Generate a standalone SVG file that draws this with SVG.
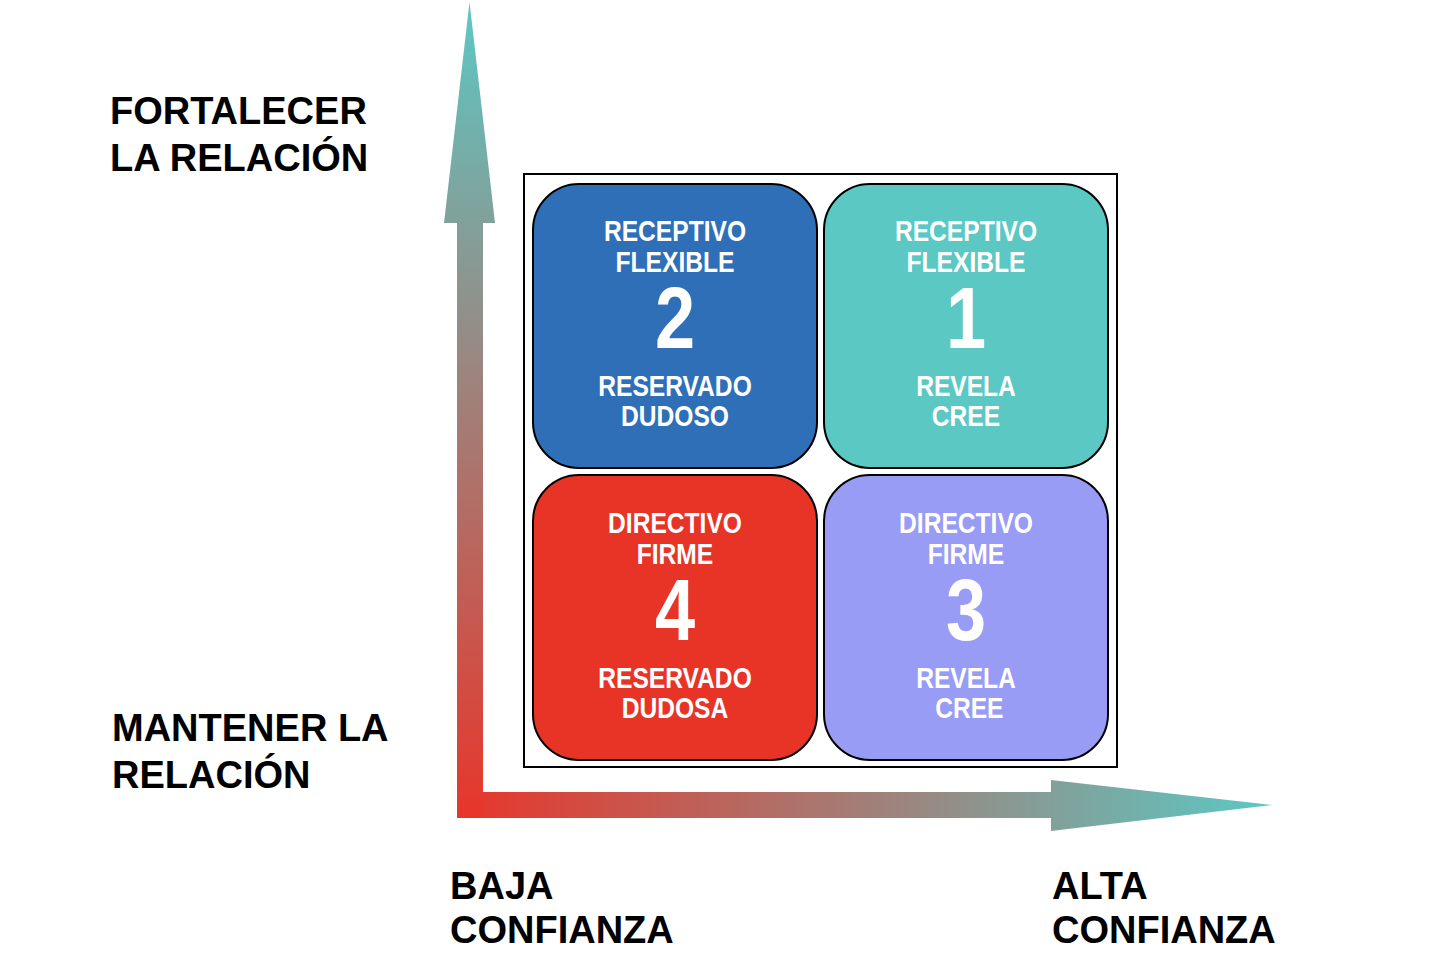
<svg xmlns="http://www.w3.org/2000/svg" width="1434" height="964" viewBox="0 0 1434 964">
<defs>
<linearGradient id="gv" gradientUnits="userSpaceOnUse" x1="0" y1="818" x2="0" y2="2">
<stop offset="0" stop-color="#E8352A"/>
<stop offset="1" stop-color="#5CC8C4"/>
</linearGradient>
<linearGradient id="gh" gradientUnits="userSpaceOnUse" x1="457" y1="0" x2="1273" y2="0">
<stop offset="0" stop-color="#E8352A"/>
<stop offset="1" stop-color="#5CC8C4"/>
</linearGradient>
<style>
.cell{stroke:#000;stroke-width:2}
.t{font-family:"Liberation Sans",Arial,sans-serif;font-weight:bold;fill:#fff;text-anchor:middle;font-size:30px}
.n{font-family:"Liberation Sans",Arial,sans-serif;font-weight:bold;fill:#fff;text-anchor:middle;font-size:88px}
.ax{font-family:"Liberation Sans",Arial,sans-serif;font-weight:bold;fill:#000;font-size:38px}
</style>
</defs>
<rect width="1434" height="964" fill="#fff"/>
<g id="connectors">
<polygon points="483,792 1051,792 1051,780 1273,805 1051,831 1051,818 483,818" fill="url(#gh)"/>
<polygon points="457,818 457,223 444,223 469.5,2 495,223 483,223 483,818" fill="url(#gv)"/>
</g>
<rect id="frame" x="524" y="174" width="593" height="593" fill="none" stroke="#000" stroke-width="2"/>
<g id="cell2">
<rect class="cell" x="533" y="184" width="284" height="284" rx="46" fill="#2E6FB7"/>
<g transform="translate(675,0) scale(0.82,1)">
<text class="t" x="0" y="241">RECEPTIVO</text>
<text class="t" x="0" y="272">FLEXIBLE</text>
<text class="n" x="0" y="348">2</text>
<text class="t" x="0" y="396">RESERVADO</text>
<text class="t" x="0" y="426">DUDOSO</text>
</g>
</g>
<g id="cell1">
<rect class="cell" x="824" y="184" width="284" height="284" rx="46" fill="#5BC8C3"/>
<g transform="translate(966,0) scale(0.82,1)">
<text class="t" x="0" y="241">RECEPTIVO</text>
<text class="t" x="0" y="272">FLEXIBLE</text>
<text class="n" x="0" y="348">1</text>
<text class="t" x="0" y="396">REVELA</text>
<text class="t" x="0" y="426">CREE</text>
</g>
</g>
<g id="cell4">
<rect class="cell" x="533" y="475" width="284" height="285" rx="46" fill="#E83427"/>
<g transform="translate(675,0) scale(0.82,1)">
<text class="t" x="0" y="533">DIRECTIVO</text>
<text class="t" x="0" y="564">FIRME</text>
<text class="n" x="0" y="640">4</text>
<text class="t" x="0" y="688">RESERVADO</text>
<text class="t" x="0" y="718">DUDOSA</text>
</g>
</g>
<g id="cell3">
<rect class="cell" x="824" y="475" width="284" height="285" rx="46" fill="#989CF5"/>
<g transform="translate(966,0) scale(0.82,1)">
<text class="t" x="0" y="533">DIRECTIVO</text>
<text class="t" x="0" y="564">FIRME</text>
<text class="n" x="0" y="640">3</text>
<text class="t" x="0" y="688">REVELA</text>
<text class="t" x="4" y="718">CREE</text>
</g>
</g>
<g id="label-top">
<text class="ax" x="110" y="124">FORTALECER</text>
<text class="ax" x="110" y="171">LA RELACIÓN</text>
</g>
<g id="label-bottom">
<text class="ax" x="112" y="741">MANTENER LA</text>
<text class="ax" x="112" y="788">RELACIÓN</text>
</g>
<g id="label-low">
<text class="ax" x="450" y="899">BAJA</text>
<text class="ax" x="450" y="943">CONFIANZA</text>
</g>
<g id="label-high">
<text class="ax" x="1052" y="899">ALTA</text>
<text class="ax" x="1052" y="943">CONFIANZA</text>
</g>
</svg>
